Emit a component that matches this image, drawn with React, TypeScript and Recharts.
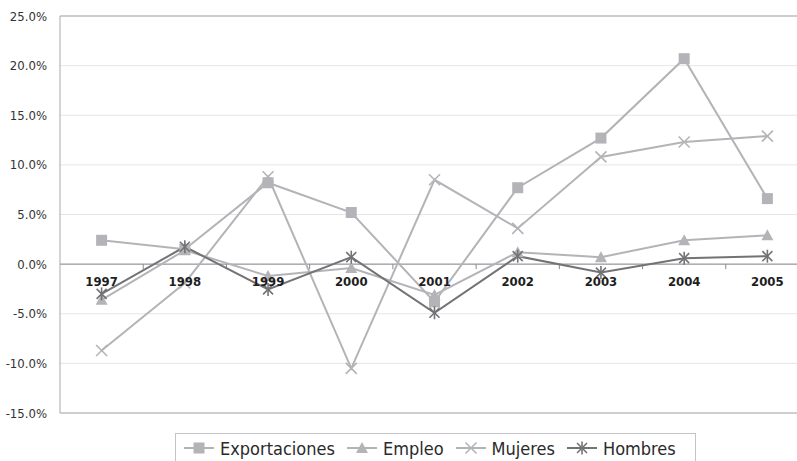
import React from 'react';
import {
  LineChart,
  Line,
  XAxis,
  YAxis,
  CartesianGrid,
  ReferenceLine,
  ReferenceDot,
  Legend,
} from 'recharts';

// Annual growth rates (%), 1997–2005
const YEARS = ['1997', '1998', '1999', '2000', '2001', '2002', '2003', '2004', '2005'];
const EXPORTACIONES = [2.4, 1.5, 8.2, 5.2, -3.8, 7.7, 12.7, 20.7, 6.6];
const EMPLEO = [-3.6, 1.4, -1.2, -0.4, -3.1, 1.2, 0.7, 2.4, 2.9];
const MUJERES = [-8.7, -1.9, 8.8, -10.5, 8.5, 3.6, 10.8, 12.3, 12.9];
const HOMBRES = [-3.0, 1.75, -2.55, 0.7, -4.9, 0.8, -0.85, 0.6, 0.8];
const Y_TICKS = [-15, -10, -5, 0, 5, 10, 15, 20, 25];

const data = YEARS.map((year, i) => ({
  year,
  Exportaciones: EXPORTACIONES[i],
  Empleo: EMPLEO[i],
  Mujeres: MUJERES[i],
  Hombres: HOMBRES[i],
}));

const LIGHT = '#b4b4b8';
const DARK = '#737376';
const FRAME = '#a9a9ae';
const FONT = "'DejaVu Sans Condensed', 'DejaVu Sans', sans-serif";

type MarkerKind = 'square' | 'triangle' | 'x' | 'star';

function Marker({ kind, cx, cy, color }: { kind: MarkerKind; cx: number; cy: number; color: string }) {
  if (kind === 'square') {
    return <rect x={cx - 5.5} y={cy - 5.5} width={11} height={11} fill={color} />;
  }
  if (kind === 'triangle') {
    return <polygon points={`${cx},${cy - 6} ${cx + 6},${cy + 5} ${cx - 6},${cy + 5}`} fill={color} />;
  }
  if (kind === 'x') {
    return (
      <g stroke={color} strokeWidth={1.6} fill="none">
        <line x1={cx - 5.5} y1={cy - 5.5} x2={cx + 5.5} y2={cy + 5.5} />
        <line x1={cx - 5.5} y1={cy + 5.5} x2={cx + 5.5} y2={cy - 5.5} />
      </g>
    );
  }
  return (
    <g stroke={color} strokeWidth={1.6} fill="none">
      <line x1={cx - 5} y1={cy - 5} x2={cx + 5} y2={cy + 5} />
      <line x1={cx - 5} y1={cy + 5} x2={cx + 5} y2={cy - 5} />
      <line x1={cx} y1={cy - 6.5} x2={cx} y2={cy + 6.5} />
    </g>
  );
}

const SERIES: { key: string; color: string; marker: MarkerKind }[] = [
  { key: 'Exportaciones', color: LIGHT, marker: 'square' },
  { key: 'Empleo', color: LIGHT, marker: 'triangle' },
  { key: 'Mujeres', color: LIGHT, marker: 'x' },
  { key: 'Hombres', color: DARK, marker: 'star' },
];

const makeDot = (kind: MarkerKind, color: string) => (props: any) => {
  const { cx, cy, index } = props;
  if (cx == null || cy == null) return <g key={`d-${index}`} />;
  return (
    <g key={`d-${kind}-${index}`}>
      <Marker kind={kind} cx={cx} cy={cy} color={color} />
    </g>
  );
};

// Zero line with short ticks at category boundaries
const ZeroLine = (props: any) => {
  const { x1, x2, y1 } = props;
  const n = YEARS.length;
  const step = (x2 - x1) / n;
  const ticks = [];
  for (let i = 1; i <= n; i++) {
    const x = x1 + step * i;
    ticks.push(<line key={i} x1={x} y1={y1} x2={x} y2={y1 + 5} stroke="#8a8a8e" strokeWidth={1} />);
  }
  return (
    <g>
      <line x1={x1} y1={y1} x2={x2} y2={y1} stroke="#8a8a8e" strokeWidth={1} />
      {ticks}
    </g>
  );
};

const renderLegend = () => (
  <div
    style={{
      boxSizing: 'border-box',
      width: 521,
      height: 30,
      border: '1px solid #c4c4c8',
      display: 'flex',
      alignItems: 'center',
      paddingLeft: 8,
      fontFamily: FONT,
      fontSize: 18,
      color: '#2a2a2a',
      background: '#fff',
    }}
  >
    {SERIES.map((s) => (
      <div key={s.key} style={{ display: 'flex', alignItems: 'center', marginRight: 12 }}>
        <svg width={30} height={16} style={{ marginRight: 6 }}>
          <line x1={0} y1={8} x2={30} y2={8} stroke={s.color} strokeWidth={2} />
          <Marker kind={s.marker} cx={15} cy={8} color={s.color} />
        </svg>
        <span>{s.key}</span>
      </div>
    ))}
  </div>
);

export default function App() {
  return (
    <div style={{ position: 'absolute', left: 0, top: 0, width: 797, height: 461, overflow: 'hidden', background: '#fff' }}>
      <LineChart
        width={812}
        height={470}
        data={data}
        margin={{ top: 16, right: 3, bottom: 7, left: 0 }}
      >
        <CartesianGrid horizontal vertical={false} stroke="#e6e6e8" />
        <XAxis
          dataKey="year"
          scale="band"
          height={20}
          tick={false}
          tickLine={false}
          axisLine={{ stroke: FRAME, strokeWidth: 1 }}
        />
        <YAxis
          domain={[-15, 25]}
          ticks={Y_TICKS}
          width={60}
          tickLine={false}
          tickMargin={7}
          axisLine={{ stroke: FRAME, strokeWidth: 1 }}
          tickFormatter={(v: number) => `${v.toFixed(1)}%`}
          tick={{ fill: '#333', fontSize: 13, fontFamily: FONT }}
          interval={0}
        />
        <ReferenceLine y={25} stroke={FRAME} strokeWidth={1} />
        <ReferenceLine y={0} shape={ZeroLine} />
        {YEARS.map((y) => (
          <ReferenceDot
            key={y}
            x={y}
            y={0}
            r={0}
            fill="none"
            stroke="none"
            label={{
              value: y,
              position: 'bottom',
              offset: 13,
              fill: '#1e1e1e',
              fontSize: 13,
              fontWeight: 'bold',
              fontFamily: FONT,
            }}
          />
        ))}
        {SERIES.map((s) => (
          <Line
            key={s.key}
            dataKey={s.key}
            stroke={s.color}
            strokeWidth={2}
            dot={makeDot(s.marker, s.color)}
            activeDot={false}
            isAnimationActive={false}
          />
        ))}
        <Legend
          verticalAlign="bottom"
          content={renderLegend}
          wrapperStyle={{ left: 175, width: 521 }}
        />
      </LineChart>
    </div>
  );
}
